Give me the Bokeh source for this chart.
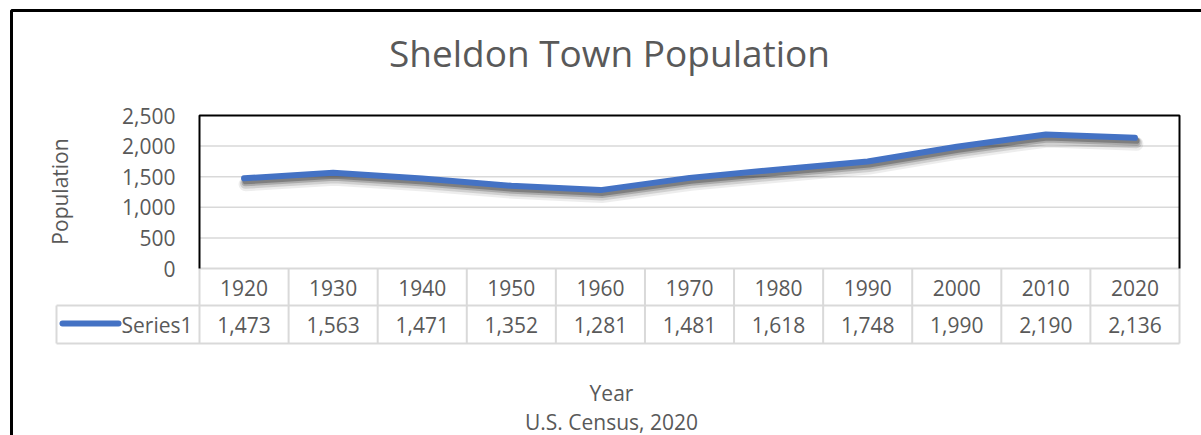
import math
from bokeh.plotting import figure
from bokeh.models import Range1d, LinearAxis, FixedTicker, NumeralTickFormatter
from bokeh.core.properties import value
from bokeh.embed import file_html
from bokeh.resources import INLINE

# ---------------- data ----------------
years = [1920, 1930, 1940, 1950, 1960, 1970, 1980, 1990, 2000, 2010, 2020]
population = [1473, 1563, 1471, 1352, 1281, 1481, 1618, 1748, 1990, 2190, 2136]
y_ticks = [0, 500, 1000, 1500, 2000, 2500]
series_name = "Series1"
chart_title = "Sheldon Town Population"
x_title = "Year"
y_title = "Population"
source_note = "U.S. Census, 2020"

# ---------------- layout (picture pixels) ----------------
W, H = 1201, 435
OFF = 0
PLOT_L, PLOT_R = 199, 1179
PLOT_T, PLOT_B = 115, 268
ROW_MID = 305
ROW_BOT = 343
LEG_L = 56

FONT = value("Open Sans")
GREY_TXT = "#595959"
GRID = "#D9D9D9"
BLUE = "#4472C4"

step = years[1] - years[0]
x_lo = years[0] - step / 2
x_hi = years[-1] + step / 2
y_lo, y_hi = y_ticks[0], y_ticks[-1]
sx = (PLOT_R - PLOT_L) / (x_hi - x_lo)
sy = (PLOT_B - PLOT_T) / (y_hi - y_lo)


def X(px):
    return x_lo + (px - PLOT_L) / sx


def Y(py):
    return y_lo + (PLOT_B - py) / sy


p = figure(width=W, height=H, output_backend="svg", toolbar_location=None, title=None,
           x_range=Range1d(X(OFF), X(OFF + W)), y_range=Range1d(Y(OFF + H), Y(OFF)),
           x_axis_type=None, y_axis_type=None, min_border=0,
           min_border_left=0, min_border_right=0, min_border_top=0, min_border_bottom=0)
p.outline_line_color = None
p.background_fill_color = "white"
p.border_fill_color = "white"

# axes (positioned inside the frame at the plot-area edges)
yax = LinearAxis(fixed_location=x_lo, ticker=FixedTicker(ticks=y_ticks),
                 formatter=NumeralTickFormatter(format="0,0"),
                 axis_line_color=None, major_tick_line_color=None, minor_tick_line_color=None,
                 major_tick_in=0, major_tick_out=0, major_label_standoff=24,
                 major_label_text_font="Open Sans", major_label_text_font_size="21px",
                 major_label_text_color=GREY_TXT)
p.add_layout(yax, "left")
xax = LinearAxis(fixed_location=0, ticker=FixedTicker(ticks=years),
                 formatter=NumeralTickFormatter(format="0"),
                 axis_line_color=None, major_tick_line_color=None, minor_tick_line_color=None,
                 major_tick_in=0, major_tick_out=0, major_label_standoff=11,
                 major_label_text_font="Open Sans", major_label_text_font_size="21px",
                 major_label_text_color=GREY_TXT)
p.add_layout(xax, "below")

# outer chart border (top + left)
p.line([X(11), X(11), X(1260)], [Y(480), Y(10), Y(10)], line_color="black", line_width=3)

# horizontal gridlines
inner = y_ticks[1:-1]
p.segment(x0=[x_lo] * len(inner), y0=inner, x1=[x_hi] * len(inner), y1=inner,
          line_color=GRID, line_width=1.5)

# data table grid
bounds = [x_lo + i * step for i in range(len(years) + 1)]
p.segment(x0=[x_lo, X(LEG_L), X(LEG_L)], y0=[0, Y(ROW_MID), Y(ROW_BOT)],
          x1=[x_hi, x_hi, x_hi], y1=[0, Y(ROW_MID), Y(ROW_BOT)],
          line_color=GRID, line_width=2)
p.segment(x0=bounds, y0=[0] * len(bounds), x1=bounds, y1=[Y(ROW_BOT)] * len(bounds),
          line_color=GRID, line_width=2)
p.segment(x0=[X(LEG_L)], y0=[Y(ROW_MID)], x1=[X(LEG_L)], y1=[Y(ROW_BOT)],
          line_color=GRID, line_width=2)

# plot area frame (left, top, right)
p.line([x_lo, x_lo, x_hi, x_hi], [y_lo, y_hi, y_hi, y_lo], line_color="black", line_width=2)

# soft shadow of the series line
for off, w, a in [(6, 14, 0.07), (5, 11, 0.12), (4, 8, 0.18), (3, 6, 0.25)]:
    p.line([v + 1.5 / sx for v in years], [v - off / sy for v in population],
           line_color="black", line_alpha=a, line_width=w, line_cap="round", line_join="round")

# series line
p.line(years, population, line_color=BLUE, line_width=6, line_cap="round", line_join="round")

# legend key in the data table
p.line([X(62), X(118)], [Y(323), Y(323)], line_color=BLUE, line_width=6, line_cap="round")
p.text(x=[X(121)], y=[Y(324)], text=[series_name], text_font=FONT, text_font_size=value("21px"),
       text_color=GREY_TXT, text_align="left", text_baseline="middle")

# values row
p.text(x=years, y=[Y(324)] * len(years), text=[f"{v:,}" for v in population], text_font=FONT,
       text_font_size=value("21px"), text_color=GREY_TXT, text_align="center", text_baseline="middle")

# titles
p.text(x=[X(609)], y=[Y(52)], text=[chart_title], text_font=FONT, text_font_size=value("37px"),
       text_color=GREY_TXT, text_align="center", text_baseline="middle")
p.text(x=[X(611)], y=[Y(392)], text=[x_title], text_font=FONT, text_font_size=value("21px"),
       text_color=GREY_TXT, text_align="center", text_baseline="middle")
p.text(x=[X(611)], y=[Y(421)], text=[source_note], text_font=FONT, text_font_size=value("21px"),
       text_color=GREY_TXT, text_align="center", text_baseline="middle")
p.text(x=[X(59)], y=[Y(191)], text=[y_title], text_font=FONT, text_font_size=value("21px"),
       text_color=GREY_TXT, text_align="center", text_baseline="middle", angle=math.pi / 2)

open("out.html", "w").write(file_html(p, INLINE))
